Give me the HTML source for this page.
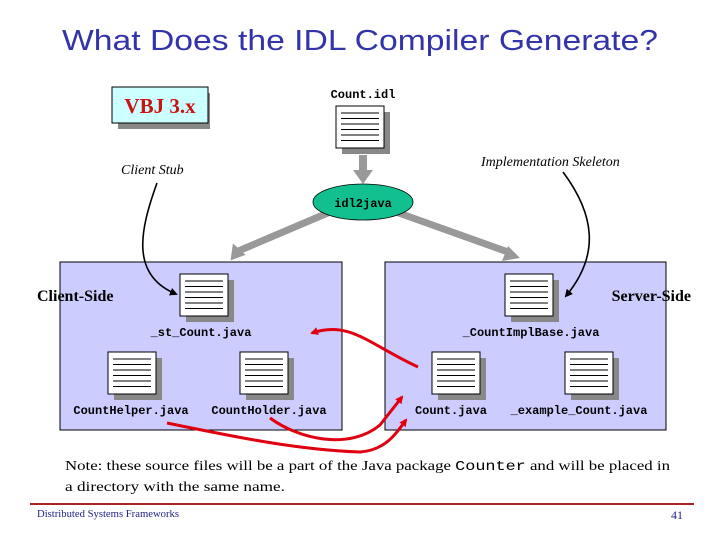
<!DOCTYPE html>
<html><head><meta charset="utf-8"><style>
html,body{margin:0;padding:0;background:#fff;}
svg{display:block;}
.m{font-family:"Liberation Mono",monospace;font-size:12px;font-weight:bold;fill:#000;}
.s{font-family:"Liberation Serif",serif;}
</style></head><body>
<svg width="720" height="540" viewBox="0 0 720 540" xmlns="http://www.w3.org/2000/svg">
<defs>
<g id="doc">
<rect x="6" y="6" width="48" height="42" fill="#888"/>
<rect x="0" y="0" width="48" height="42" fill="#fff" stroke="#000" stroke-width="1"/>
<g stroke="#000" stroke-width="1">
<line x1="5" y1="7" x2="43" y2="7"/><line x1="5" y1="12.5" x2="43" y2="12.5"/><line x1="5" y1="18" x2="43" y2="18"/>
<line x1="5" y1="23.5" x2="43" y2="23.5"/><line x1="5" y1="29" x2="43" y2="29"/><line x1="5" y1="34.5" x2="43" y2="34.5"/>
</g>
</g>
<marker id="rh" markerWidth="8" markerHeight="8" refX="6" refY="4" orient="auto" markerUnits="userSpaceOnUse"><path d="M0,0 L8,4 L0,8 z" fill="#e00010"/></marker>
<marker id="bh" markerWidth="8" markerHeight="8" refX="6" refY="4" orient="auto" markerUnits="userSpaceOnUse"><path d="M0,0 L8,4 L0,8 z" fill="#000"/></marker>
</defs>

<text x="62" y="50" font-family="Liberation Sans,sans-serif" font-size="29" fill="#3333aa" textLength="596" lengthAdjust="spacingAndGlyphs">What Does the IDL Compiler Generate?</text>

<rect x="118" y="93" width="92" height="36" fill="#888"/>
<rect x="112" y="87" width="96" height="36" fill="#ccffff" stroke="#000"/>
<text x="160" y="113" text-anchor="middle" class="s" font-size="21" font-weight="bold" fill="#cc1111">VBJ 3.x</text>

<text x="363" y="98" text-anchor="middle" class="m">Count.idl</text>
<use href="#doc" x="336" y="106"/>

<line x1="363" y1="155" x2="363" y2="172" stroke="#999" stroke-width="8"/>
<path d="M353,170 L373,170 L363,184 z" fill="#999"/>
<line x1="330" y1="212" x2="236" y2="252" stroke="#999" stroke-width="7"/>
<path d="M228,258 L236,243 L244,258 z" fill="#999" transform="rotate(-20 236 252)"/>
<line x1="396" y1="212" x2="508" y2="252" stroke="#999" stroke-width="7"/>
<path d="M520,258 L502,261 L508,246 z" fill="#999"/>

<ellipse cx="363" cy="202" rx="50" ry="18" fill="#11c08e" stroke="#000" stroke-width="0.8"/>
<text x="363" y="207" text-anchor="middle" class="m" font-size="13">idl2java</text>

<text x="121" y="174" class="s" font-size="14" font-style="italic">Client Stub</text>
<text x="481" y="166" class="s" font-size="14" font-style="italic">Implementation Skeleton</text>

<rect x="60" y="262" width="282" height="168" fill="#ccccff" stroke="#000"/>
<rect x="385" y="262" width="281" height="168" fill="#ccccff" stroke="#000"/>

<text x="37" y="301" class="s" font-size="16" font-weight="bold">Client-Side</text>
<text x="691" y="301" text-anchor="end" class="s" font-size="16" font-weight="bold">Server-Side</text>

<use href="#doc" x="180" y="274"/>
<use href="#doc" x="108" y="352"/>
<use href="#doc" x="240" y="352"/>
<use href="#doc" x="505" y="274"/>
<use href="#doc" x="432" y="352"/>
<use href="#doc" x="565" y="352"/>

<text x="201" y="336" text-anchor="middle" class="m">_st_Count.java</text>
<text x="131" y="414" text-anchor="middle" class="m">CountHelper.java</text>
<text x="269" y="414" text-anchor="middle" class="m">CountHolder.java</text>
<text x="531" y="336" text-anchor="middle" class="m">_CountImplBase.java</text>
<text x="451" y="414" text-anchor="middle" class="m">Count.java</text>
<text x="579" y="414" text-anchor="middle" class="m">_example_Count.java</text>

<path d="M157,183 C140,230 130,275 176,294" fill="none" stroke="#000" stroke-width="1.6" marker-end="url(#bh)"/>
<path d="M563,172 C595,215 600,255 566,296" fill="none" stroke="#000" stroke-width="1.6" marker-end="url(#bh)"/>

<path d="M418,367 C370,345 350,320 312,333" fill="none" stroke="#e00010" stroke-width="3" marker-end="url(#rh)"/>
<path d="M270,418 C300,440 350,450 380,425 L402,397" fill="none" stroke="#e00010" stroke-width="3" marker-end="url(#rh)"/>
<path d="M167,423 C240,438 300,450 360,452 C385,450 395,435 406,420" fill="none" stroke="#e00010" stroke-width="3" marker-end="url(#rh)"/>

<text x="65" y="470" class="s" font-size="14" textLength="605" lengthAdjust="spacingAndGlyphs">Note: these source files will be a part of the Java package <tspan font-family="Liberation Mono,monospace">Counter</tspan> and will be placed in</text>
<text x="65" y="491" class="s" font-size="14" textLength="220" lengthAdjust="spacingAndGlyphs">a directory with the same name.</text>

<line x1="30" y1="504" x2="694" y2="504" stroke="#aa2222" stroke-width="2"/>
<text x="37" y="517" class="s" font-size="10" fill="#222288" textLength="142" lengthAdjust="spacingAndGlyphs">Distributed Systems Frameworks</text>
<text x="683" y="519" text-anchor="end" class="s" font-size="12" fill="#222288">41</text>
</svg>
</body></html>
